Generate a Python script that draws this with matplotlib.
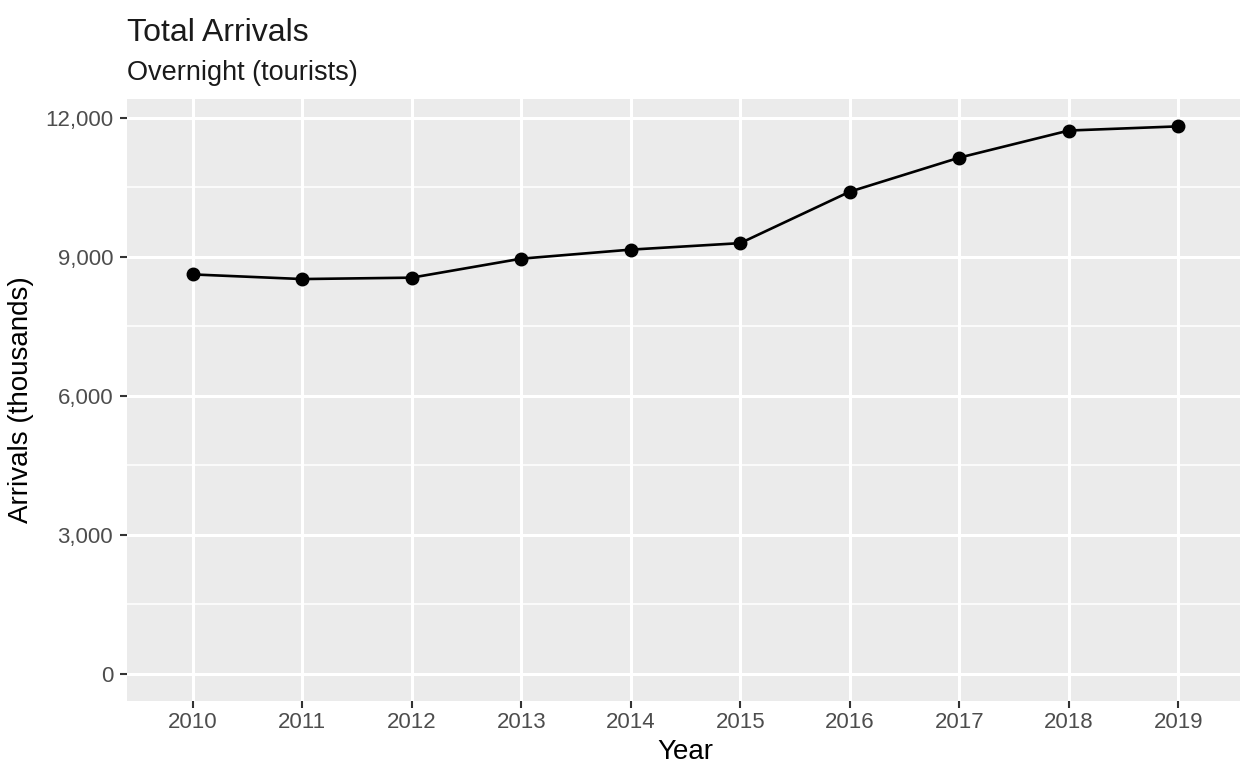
import matplotlib.pyplot as plt
from matplotlib.ticker import FuncFormatter, MultipleLocator

# Total arrivals, overnight tourists (thousands)
years = ["2010", "2011", "2012", "2013", "2014", "2015", "2016", "2017", "2018", "2019"]
arrivals = [8615, 8515, 8545, 8955, 9150, 9290, 10400, 11135, 11720, 11810]
y_ticks = [0, 3000, 6000, 9000, 12000]

plt.rcParams['font.family'] = ['Liberation Sans', 'DejaVu Sans']

fig = plt.figure(figsize=(12.4, 7.67), dpi=100)
ax = fig.add_axes([127 / 1240, 66 / 767, 1117 / 1240, 602 / 767])
ax.set_facecolor('#EBEBEB')

x = list(range(len(years)))
ax.plot(x, arrivals, color='black', lw=1.9, marker='o', ms=9, zorder=3)

# ggplot-like expansion
top = max(arrivals)
ax.set_ylim(-0.05 * top, 1.05 * top)
ax.set_xlim(-0.6, len(years) - 1 + 0.6)

ax.set_xticks(x)
ax.set_xticklabels(years)
ax.set_yticks(y_ticks)
ax.yaxis.set_minor_locator(MultipleLocator(1500))
ax.yaxis.set_major_formatter(FuncFormatter(lambda v, p: '{:,.0f}'.format(v)))

ax.grid(which='major', color='white', lw=2.2)
ax.grid(which='minor', axis='y', color='white', lw=1.1)
ax.set_axisbelow(True)
for s in ax.spines.values():
    s.set_visible(False)
ax.tick_params(which='major', length=5, width=1.5, color='#333333',
               labelsize=16, labelcolor='#4D4D4D', pad=3)
ax.tick_params(axis='y', pad=5)
ax.tick_params(which='minor', length=0)

ax.set_xlabel('Year', fontsize=20, color='black', labelpad=4)
ax.set_ylabel('Arrivals (thousands)', fontsize=20, color='black', labelpad=8)

fig.text(127 / 1240, 1 - 41 / 767, 'Total Arrivals', fontsize=23, ha='left', va='baseline',
         color='#1A1A1A')
fig.text(127 / 1240, 1 - 80 / 767, 'Overnight (tourists)', fontsize=19.5, ha='left', va='baseline',
         color='#1A1A1A')

fig.savefig('out.png', dpi=100)
